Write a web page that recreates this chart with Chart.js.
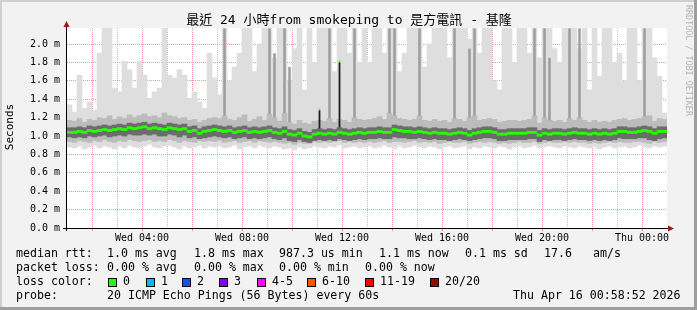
<!DOCTYPE html>
<html>
<head>
<meta charset="utf-8">
<title>smokeping - 是方電訊 基隆</title>
<script src="https://cdn.jsdelivr.net/npm/chart.js@4/dist/chart.umd.min.js"></script>
<style>
  html, body { margin: 0; padding: 0; background: #f2f2f2; }
  canvas { display: block; }
</style>
</head>
<body>
<canvas id="smoke-chart" width="697" height="310"></canvas>
<script>
// Values, in ms. One bin = 12 minutes, Wed 01:00 -> Thu 01:00 (120 bins)
const medianRtt = [
  1.04,1.04,1.05,1.04,1.06,1.05,1.06,1.07,1.06,1.07,
  1.08,1.07,1.09,1.08,1.09,1.10,1.08,1.09,1.08,1.07,
  1.09,1.08,1.07,1.08,1.05,1.06,1.03,1.05,1.06,1.07,
  1.06,1.05,1.06,1.04,1.05,1.06,1.04,1.05,1.04,1.05,
  1.06,1.04,1.03,1.05,1.02,1.01,1.03,1.00,0.99,1.02,
  1.03,1.02,1.03,1.02,1.04,1.03,1.02,1.03,1.04,1.03,
  1.04,1.04,1.05,1.04,1.04,1.07,1.06,1.05,1.05,1.04,
  1.05,1.04,1.03,1.04,1.03,1.03,1.02,1.03,1.04,1.03,
  1.01,1.03,1.04,1.05,1.05,1.04,1.02,1.02,1.03,1.03,
  1.03,1.03,1.04,1.04,1.01,1.03,1.02,1.03,1.03,1.02,
  1.03,1.04,1.03,1.03,1.02,1.03,1.02,1.03,1.02,1.03,
  1.05,1.05,1.04,1.04,1.05,1.06,1.05,1.03,1.05,1.05
];

// lowest and highest of the 20 pings (light smoke)
const minRtt = [
  0.88,0.87,0.89,0.86,0.88,0.90,0.87,0.89,0.88,0.86,
  0.89,0.87,0.90,0.88,0.87,0.89,0.91,0.88,0.87,0.89,
  0.90,0.88,0.86,0.89,0.87,0.88,0.90,0.87,0.89,0.88,
  0.89,0.87,0.88,0.90,0.86,0.88,0.89,0.87,0.90,0.88,
  0.87,0.89,0.88,0.86,0.87,0.85,0.88,0.86,0.87,0.89,
  0.88,0.87,0.89,0.88,0.90,0.87,0.88,0.89,0.87,0.88,
  0.89,0.87,0.88,0.90,0.88,0.86,0.89,0.87,0.88,0.90,
  0.88,0.87,0.89,0.88,0.86,0.88,0.89,0.87,0.88,0.89,
  0.86,0.88,0.87,0.89,0.88,0.87,0.89,0.88,0.86,0.88,
  0.89,0.87,0.88,0.90,0.87,0.88,0.89,0.88,0.87,0.89,
  0.88,0.87,0.89,0.88,0.87,0.88,0.86,0.88,0.89,0.87,
  0.88,0.89,0.87,0.88,0.90,0.88,0.87,0.89,0.88,0.89
];
const maxRtt = [
  1.34,1.26,1.66,1.30,1.37,1.28,1.90,2.17,2.17,1.52,
  1.48,1.81,1.72,1.52,1.81,1.66,1.41,1.48,1.52,2.17,
  1.66,1.63,1.72,1.66,1.41,1.48,1.37,1.30,1.90,1.63,
  1.45,2.17,1.60,1.75,1.90,2.17,2.17,1.70,2.00,2.17,
  2.17,1.85,2.17,2.17,1.60,1.95,2.17,1.50,2.17,1.80,
  2.17,2.17,2.17,1.70,2.17,2.17,1.90,2.17,1.80,2.17,
  1.80,2.17,2.17,1.90,2.17,2.17,1.70,1.90,2.17,2.17,
  2.17,1.75,2.00,2.17,2.17,2.17,1.85,2.17,2.17,2.17,
  2.05,2.17,1.90,2.17,2.17,1.60,1.50,2.17,2.17,1.80,
  2.17,2.17,1.90,2.17,1.85,2.17,2.17,1.95,1.80,2.17,
  2.17,2.17,1.95,2.17,1.50,2.17,1.65,2.17,2.17,1.80,
  1.90,1.60,2.17,2.17,1.60,2.17,2.17,1.85,1.65,1.25
];

// inner quantiles (mid smoke)
const lowRtt = [
  0.94,0.93,0.95,0.94,0.93,0.95,0.94,0.96,0.94,0.93,
  0.95,0.94,0.96,0.95,0.94,0.95,0.96,0.94,0.95,0.94,
  0.96,0.95,0.93,0.95,0.94,0.93,0.95,0.94,0.95,0.94,
  0.95,0.93,0.94,0.95,0.93,0.94,0.95,0.93,0.95,0.94,
  0.93,0.94,0.93,0.92,0.93,0.91,0.93,0.92,0.92,0.94,
  0.93,0.94,0.93,0.94,0.95,0.93,0.94,0.93,0.94,0.93,
  0.94,0.93,0.94,0.95,0.93,0.94,0.94,0.93,0.94,0.95,
  0.93,0.94,0.93,0.94,0.92,0.93,0.94,0.93,0.93,0.94,
  0.92,0.93,0.94,0.93,0.94,0.93,0.92,0.93,0.92,0.93,
  0.94,0.93,0.93,0.94,0.92,0.93,0.94,0.93,0.93,0.94,
  0.93,0.94,0.93,0.93,0.92,0.93,0.92,0.93,0.94,0.93,
  0.94,0.93,0.93,0.94,0.94,0.93,0.92,0.94,0.93,0.94
];
const highRtt = [
  1.17,1.16,1.19,1.15,1.18,1.17,1.20,1.19,1.22,1.18,
  1.21,1.19,1.23,1.20,1.22,1.24,1.21,1.22,1.20,1.25,
  1.22,1.21,1.19,1.20,1.17,1.18,1.15,1.17,1.19,1.20,
  1.19,1.22,1.18,1.17,1.20,1.23,1.16,1.18,1.21,1.17,
  1.24,1.20,1.16,1.25,1.15,1.13,1.17,1.14,1.13,1.16,
  1.17,1.16,1.19,1.15,1.18,1.17,1.15,1.20,1.18,1.17,
  1.18,1.19,1.21,1.18,1.25,1.22,1.19,1.18,1.17,1.18,
  1.22,1.17,1.16,1.18,1.16,1.17,1.15,1.19,1.18,1.16,
  1.20,1.22,1.17,1.18,1.19,1.18,1.15,1.16,1.17,1.17,
  1.16,1.17,1.18,1.22,1.14,1.20,1.17,1.16,1.17,1.15,
  1.19,1.17,1.20,1.17,1.15,1.17,1.15,1.16,1.15,1.17,
  1.18,1.19,1.17,1.18,1.19,1.21,1.22,1.16,1.19,1.18
];

// dense core around the median (dark smoke)
const coreLow = [
  0.99,0.98,0.99,0.98,1.00,0.99,1.00,1.01,0.99,1.00,
  1.01,1.00,1.02,1.01,1.01,1.02,1.01,1.02,1.00,1.00,
  1.02,1.01,0.99,1.01,0.98,0.99,0.97,0.98,0.99,1.00,
  0.99,0.98,0.99,0.97,0.98,0.99,0.97,0.98,0.97,0.98,
  0.99,0.97,0.96,0.98,0.95,0.94,0.96,0.94,0.93,0.95,
  0.96,0.95,0.96,0.95,0.97,0.96,0.95,0.96,0.97,0.96,
  0.97,0.97,0.98,0.97,0.97,0.99,0.98,0.98,0.97,0.97,
  0.98,0.97,0.96,0.97,0.96,0.96,0.95,0.96,0.97,0.96,
  0.95,0.96,0.97,0.98,0.98,0.97,0.95,0.95,0.96,0.96,
  0.96,0.96,0.97,0.97,0.94,0.96,0.95,0.96,0.96,0.95,
  0.96,0.97,0.96,0.96,0.95,0.96,0.95,0.96,0.95,0.96,
  0.98,0.97,0.97,0.97,0.98,0.98,0.96,0.95,0.97,0.98
];
const coreHigh = [
  1.09,1.09,1.10,1.09,1.11,1.10,1.11,1.12,1.11,1.12,
  1.13,1.12,1.14,1.13,1.14,1.15,1.13,1.14,1.13,1.12,
  1.14,1.13,1.12,1.13,1.10,1.11,1.08,1.10,1.11,1.12,
  1.11,1.10,1.11,1.09,1.10,1.11,1.09,1.10,1.09,1.10,
  1.11,1.09,1.08,1.10,1.07,1.06,1.08,1.05,1.04,1.07,
  1.08,1.07,1.08,1.07,1.09,1.08,1.07,1.08,1.09,1.08,
  1.09,1.09,1.10,1.09,1.09,1.12,1.11,1.10,1.10,1.09,
  1.10,1.09,1.08,1.09,1.08,1.08,1.07,1.08,1.09,1.08,
  1.06,1.08,1.09,1.10,1.10,1.09,1.07,1.07,1.08,1.08,
  1.08,1.08,1.09,1.09,1.06,1.08,1.07,1.08,1.08,1.07,
  1.08,1.09,1.08,1.08,1.07,1.08,1.07,1.08,1.07,1.08,
  1.10,1.10,1.09,1.09,1.10,1.11,1.10,1.08,1.10,1.10
];

// darker stripes where several pings were slow
const stripeBins = [31, 40, 41, 43, 44, 52, 57, 64, 65, 70, 77, 80, 81, 93, 95, 96, 100, 102, 115];
const stripeTop  = [2.17, 2.17, 1.90, 2.17, 1.75, 2.17, 2.17, 2.17, 2.17, 2.17, 2.17, 1.95, 2.17, 2.17, 2.17, 1.85, 2.17, 2.17, 2.17];

// the two short bursts around Wed 12:00
const spikeBins = [50, 54];
const spikeTop  = [1.30, 1.82];

// axes
const yMax = 2.174;
const yTicks = [0.0, 0.1, 0.2, 0.3, 0.4, 0.5, 0.6, 0.7, 0.8, 0.9, 1.0, 1.1, 1.2, 1.3, 1.4, 1.5, 1.6, 1.7, 1.8, 1.9, 2.0, 2.1];
const gridHours = [2, 3, 4, 5, 6, 7, 8, 9, 10, 11, 12, 13, 14, 15, 16, 17, 18, 19, 20, 21, 22, 23, 24];
const xTickHours = [4, 8, 12, 16, 20, 24];
const xTickLabels = ['Wed 04:00', 'Wed 08:00', 'Wed 12:00', 'Wed 16:00', 'Wed 20:00', 'Thu 00:00'];

// legend texts
const chartTitle = '最近 24 小時from smokeping to 是方電訊 - 基隆';
const lossLabels = ['0', '1', '2', '3', '4-5', '6-10', '11-19', '20/20'];
const lossColors = ['#26ff00', '#00b8ff', '#0059ff', '#7e00ff', '#ff00ff', '#ff5500', '#ff0000', '#a10000'];

const MONO = "'DejaVu Sans Mono', 'Noto Sans CJK TC', monospace";
const majorGrid = 'rgba(235, 80, 80, 0.6)';
const minorGrid = '#c4c4c4';

// major grid every 2 hours / every 0.2 ms
const isMajorHour = c => c.tick ? c.tick.value % 2 === 0 : false;
const isMajorRtt = c => c.tick ? Math.round(c.tick.value * 10) % 2 === 0 : false;

// helpers to turn the arrays into floating bars
const band = (lo, hi) => lo.map((v, i) => [v, hi[i]]);
const sparse = (bins, tops, base) => medianRtt.map((_, i) => {
    const k = bins.indexOf(i);
    return k < 0 ? null : [base[i], tops[k]];
});

const layer = (label, data, color, extra) => Object.assign({
    label: label,
    data: data,
    backgroundColor: color,
    borderWidth: 0,
    grouped: false,
    barPercentage: 1,
    categoryPercentage: 1
}, extra || {});

// background, frame and all the rrdtool style texts
const rrdFrame = {
    id: 'rrdFrame',
    beforeDraw(chart) {
        const { ctx, chartArea: a, width, height } = chart;
        ctx.save();
        ctx.fillStyle = '#f2f2f2';
        ctx.fillRect(0, 0, width, height);
        ctx.fillStyle = '#cfcfcf';
        ctx.fillRect(0, 0, width, 2);
        ctx.fillRect(0, 0, 2, height);
        ctx.fillStyle = '#9e9e9e';
        ctx.fillRect(0, height - 3, width, 3);
        ctx.fillRect(width - 3, 0, 3, height);
        ctx.fillStyle = '#ffffff';
        ctx.fillRect(a.left, a.top, a.right - a.left, a.bottom - a.top);
        ctx.restore();
    },
    afterDraw(chart) {
        const { ctx, chartArea: a } = chart;
        ctx.save();

        // axes with arrows
        ctx.strokeStyle = '#000';
        ctx.lineWidth = 1;
        ctx.beginPath();
        ctx.moveTo(a.left - 4, a.bottom + 0.5);
        ctx.lineTo(a.right + 4, a.bottom + 0.5);
        ctx.moveTo(a.left - 0.5, a.bottom + 3);
        ctx.lineTo(a.left - 0.5, a.top - 4);
        ctx.stroke();
        ctx.fillStyle = '#a01818';
        ctx.beginPath();
        ctx.moveTo(a.right + 1, a.bottom - 2.5);
        ctx.lineTo(a.right + 7, a.bottom + 0.5);
        ctx.lineTo(a.right + 1, a.bottom + 3.5);
        ctx.fill();
        ctx.beginPath();
        ctx.moveTo(a.left - 3.5, a.top - 1);
        ctx.lineTo(a.left - 0.5, a.top - 7);
        ctx.lineTo(a.left + 2.5, a.top - 1);
        ctx.fill();

        // title
        ctx.fillStyle = '#000';
        ctx.font = '13px ' + MONO;
        ctx.textAlign = 'center';
        ctx.textBaseline = 'middle';
        ctx.fillText(chartTitle, 349, 21);

        // vertical labels
        ctx.save();
        ctx.translate(10, 127);
        ctx.rotate(-Math.PI / 2);
        ctx.font = '11px ' + MONO;
        ctx.fillText('Seconds', 0, 0);
        ctx.restore();

        ctx.save();
        ctx.translate(688, 5);
        ctx.rotate(Math.PI / 2);
        ctx.textAlign = 'left';
        ctx.fillStyle = '#b4b4b4';
        ctx.font = '8.4px ' + MONO;
        ctx.fillText('RRDTOOL / TOBI OETIKER', 0, 0);
        ctx.restore();

        // legend block
        ctx.font = '11.6px ' + MONO;
        ctx.textAlign = 'left';
        ctx.fillStyle = '#000';
        const rows = [
            [254, [[16, 'median rtt:'], [107, '1.0 ms avg'], [194, '1.8 ms max'], [279, '987.3 us min'],
                   [379, '1.1 ms now'], [465, '0.1 ms sd'], [544, '17.6'], [593, 'am/s']]],
            [268, [[16, 'packet loss:'], [107, '0.00 % avg'], [194, '0.00 % max'], [279, '0.00 % min'],
                   [365, '0.00 % now']]],
            [282, [[16, 'loss color:']]],
            [296, [[16, 'probe:'], [107, '20 ICMP Echo Pings (56 Bytes) every 60s'],
                   [513, 'Thu Apr 16 00:58:52 2026']]]
        ];
        rows.forEach(([y, parts]) => parts.forEach(([x, t]) => ctx.fillText(t, x, y)));

        const boxX = [108, 146, 182, 219, 257, 307, 365, 430];
        lossLabels.forEach((lbl, i) => {
            ctx.fillStyle = lossColors[i];
            ctx.fillRect(boxX[i], 278, 8, 8);
            ctx.strokeStyle = '#000';
            ctx.strokeRect(boxX[i] + 0.5, 278.5, 8, 8);
            ctx.fillStyle = '#000';
            ctx.fillText(lbl, boxX[i] + 15, 282);
        });

        ctx.restore();
    }
};

const ctx = document.getElementById('smoke-chart').getContext('2d');

const chart = new Chart(ctx, {
    type: 'bar',
    data: {
        labels: medianRtt.map((_, i) => i),
        // first dataset is drawn on top
        datasets: [
            layer('median', medianRtt.map(v => [v - 0.012, v + 0.012]), '#26ff00'),
            layer('bursts', sparse(spikeBins, spikeTop, coreHigh), '#1c1c1c', {
                barPercentage: 0.45,
                borderColor: '#26ff00',
                borderWidth: { top: 2, right: 0, bottom: 0, left: 0 }
            }),
            layer('core', band(coreLow, coreHigh), '#6c6c6c'),
            layer('stripes', sparse(stripeBins, stripeTop, highRtt), '#9c9c9c', { barPercentage: 0.5 }),
            layer('quartiles', band(lowRtt, highRtt), '#bcbcbc'),
            layer('min/max', band(minRtt, maxRtt), '#dedede')
        ]
    },
    options: {
        responsive: false,
        devicePixelRatio: 1,
        animation: false,
        layout: { padding: { top: 28, right: 30, left: 0, bottom: 0 } },
        plugins: {
            legend: { display: false },
            tooltip: { enabled: false }
        },
        scales: {
            x: { display: false },
            xt: {
                type: 'linear',
                position: 'bottom',
                min: 1,
                max: 25,
                offset: false,
                z: 1,
                afterFit: s => { s.height = 82; },
                afterBuildTicks: s => { s.ticks = gridHours.map(h => ({ value: h })); },
                grid: {
                    offset: false,
                    color: c => isMajorHour(c) ? majorGrid : minorGrid,
                    lineWidth: 1,
                    tickLength: 3,
                    tickBorderDash: [],
                    tickColor: c => isMajorHour(c) ? majorGrid : 'rgba(0,0,0,0)'
                },
                border: { display: false, dash: [1, 1] },
                ticks: {
                    autoSkip: false,
                    maxRotation: 0,
                    padding: 1,
                    color: '#000',
                    font: { family: MONO, size: 10 },
                    callback: v => {
                        const k = xTickHours.indexOf(v);
                        return k < 0 ? '' : xTickLabels[k];
                    }
                }
            },
            y: {
                min: 0,
                max: yMax,
                z: 1,
                afterFit: s => { s.width = 67; },
                afterBuildTicks: s => { s.ticks = yTicks.map(v => ({ value: v })); },
                grid: {
                    color: c => isMajorRtt(c) ? majorGrid : minorGrid,
                    lineWidth: 1,
                    drawTicks: false
                },
                border: { display: false, dash: [1, 1] },
                ticks: {
                    padding: 7,
                    color: '#000',
                    font: { family: MONO, size: 10 },
                    callback: v => Math.round(v * 10) % 2 === 0 ? v.toFixed(1) + ' m' : ''
                }
            }
        }
    },
    plugins: [rrdFrame]
});
</script>
</body>
</html>
